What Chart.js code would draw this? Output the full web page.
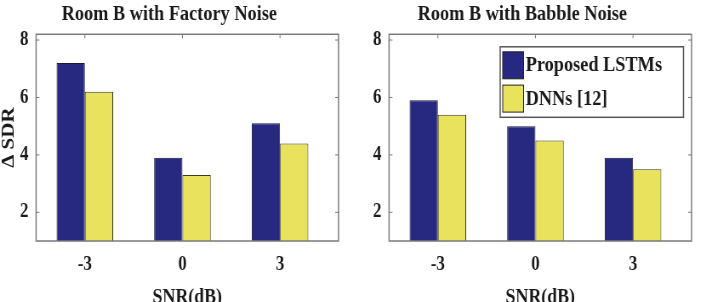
<!DOCTYPE html>
<html>
<head>
<meta charset="utf-8">
<script src="https://cdn.jsdelivr.net/npm/chart.js@4"></script>
<style>
  html, body { margin: 0; padding: 0; background: #fff; }
  .fila { display: flex; width: 706px; height: 302px; overflow: hidden; }
  /* el canvas se dibuja más ancho y se comprime en horizontal, como en la figura original */
  canvas { width: 353px !important; height: 302px !important; }
</style>
</head>
<body>
<div class="fila">
  <canvas id="factoryChart" width="415" height="302" style="width:353px;height:302px"></canvas>
  <canvas id="babbleChart" width="415" height="302" style="width:353px;height:302px"></canvas>
</div>
<script>
// Datos
const snrLevels = [-3, 0, 3];
const yTicks = [2, 4, 6, 8];
const seriesNames = ['Proposed LSTMs', 'DNNs [12]'];
const factoryLstm = [7.2, 3.9, 5.1];
const factoryDnn = [6.2, 3.3, 4.4];
const babbleLstm = [5.9, 5.0, 3.9];
const babbleDnn = [5.4, 4.5, 3.5];

const FONT = '"Liberation Serif", "Times New Roman", serif';
const BLUE = '#26297f';
const YELLOW = '#e9e25c';

// Dibuja el marco del eje y las marcas hacia dentro (estilo MATLAB)
const framePlugin = {
    id: 'frame',
    afterDatasetsDraw(chart) {
        const { ctx, chartArea: a, scales } = chart;
        ctx.save();
        ctx.strokeStyle = '#7a7a7a';
        ctx.lineWidth = 1.5;
        ctx.strokeRect(a.left, a.top, a.right - a.left, a.bottom - a.top);
        ctx.lineWidth = 1;
        ctx.beginPath();
        scales.y.ticks.forEach(t => {
            const py = scales.y.getPixelForValue(t.value);
            ctx.moveTo(a.left, py); ctx.lineTo(a.left + 4, py);
            ctx.moveTo(a.right, py); ctx.lineTo(a.right - 4, py);
        });
        scales.x.ticks.forEach(t => {
            const px = scales.x.getPixelForValue(t.value);
            ctx.moveTo(px, a.top); ctx.lineTo(px, a.top + 4);
        });
        ctx.stroke();
        ctx.restore();
    }
};

// Leyenda con recuadro dentro del área del gráfico
const boxLegendPlugin = {
    id: 'boxLegend',
    afterDraw(chart, args, opts) {
        if (!opts.show) return;
        const { ctx, chartArea: a } = chart;
        const left = a.right - 225, top = a.top + 12.5;
        const w = 215.5, h = 70.5;
        ctx.save();
        ctx.fillStyle = '#fff';
        ctx.fillRect(left, top, w, h);
        ctx.strokeStyle = '#555';
        ctx.lineWidth = 1.5;
        ctx.strokeRect(left, top, w, h);
        ctx.font = 'bold 21.5px ' + FONT;
        ctx.textBaseline = 'middle';
        ctx.textAlign = 'left';
        chart.data.datasets.forEach((ds, i) => {
            const sy = top + 5 + i * 33.3;
            ctx.fillStyle = ds.backgroundColor;
            ctx.fillRect(left + 3, sy, 24.5, 27);
            ctx.strokeStyle = '#222';
            ctx.lineWidth = 1;
            ctx.strokeRect(left + 3, sy, 24.5, 27);
            ctx.fillStyle = '#1a1a1a';
            ctx.fillText(ds.label, left + 30, sy + 14);
        });
        ctx.restore();
    }
};

function makeChart(id, title, lstm, dnn, withYLabel, withLegend) {
    const ctx = document.getElementById(id).getContext('2d');
    return new Chart(ctx, {
        type: 'bar',
        data: {
            datasets: [
                {
                    label: seriesNames[0],
                    data: snrLevels.map((s, i) => ({ x: s, y: lstm[i] })),
                    backgroundColor: BLUE,
                    borderColor: '#1c1c3a',
                    borderWidth: 1
                },
                {
                    label: seriesNames[1],
                    data: snrLevels.map((s, i) => ({ x: s, y: dnn[i] })),
                    backgroundColor: YELLOW,
                    borderColor: '#3a3a20',
                    borderWidth: 1
                }
            ]
        },
        options: {
            responsive: false,
            animation: false,
            devicePixelRatio: 1,
            categoryPercentage: 0.58,
            barPercentage: 1,
            layout: { padding: { left: 0, right: 17, top: 0, bottom: 0 } },
            plugins: {
                legend: { display: false },
                tooltip: { enabled: false },
                title: {
                    display: true,
                    text: title,
                    color: '#1a1a1a',
                    font: { family: FONT, size: 21.5, weight: 'bold' },
                    padding: { top: 2, bottom: 6.5 }
                },
                boxLegend: { show: withLegend }
            },
            scales: {
                x: {
                    type: 'linear',
                    min: -4.5,
                    max: 4.8,
                    offset: false,
                    grid: { display: false, drawTicks: false },
                    border: { display: false },
                    afterBuildTicks: s => { s.ticks = snrLevels.map(v => ({ value: v })); },
                    afterFit: s => { s.height = 61; },
                    ticks: {
                        padding: 12,
                        color: '#1a1a1a',
                        font: { family: FONT, size: 20, weight: 'bold' },
                        callback: v => String(v)
                    },
                    title: {
                        display: true,
                        text: 'SNR(dB)',
                        color: '#1a1a1a',
                        font: { family: FONT, size: 21, weight: 'bold', lineHeight: 1 },
                        padding: { top: 0, bottom: -6 }
                    }
                },
                y: {
                    min: 1,
                    max: 8.2,
                    grid: { display: false, drawTicks: false },
                    border: { display: false },
                    afterBuildTicks: s => { s.ticks = yTicks.map(v => ({ value: v })); },
                    afterFit: s => { s.width = 42.4; },
                    ticks: {
                        padding: 9,
                        color: '#1a1a1a',
                        font: { family: FONT, size: 20, weight: 'bold' }
                    },
                    title: {
                        display: withYLabel,
                        text: 'Δ SDR',
                        color: '#1a1a1a',
                        font: { family: FONT, size: 21, weight: 'bold', lineHeight: 1 },
                        padding: 0
                    }
                }
            }
        },
        plugins: [framePlugin, boxLegendPlugin]
    });
}

makeChart('factoryChart', 'Room B with Factory Noise', factoryLstm, factoryDnn, true, false);
makeChart('babbleChart', 'Room B with Babble Noise', babbleLstm, babbleDnn, false, true);
</script>
</body>
</html>
